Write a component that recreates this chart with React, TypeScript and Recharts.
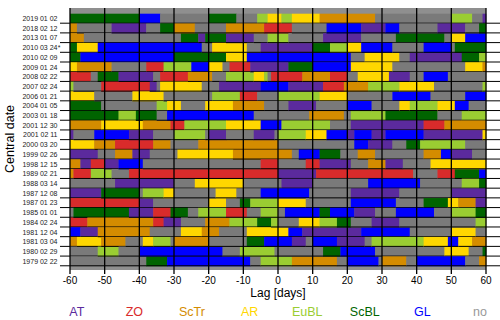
import { BarChart, Bar, XAxis, YAxis, Cell, ReferenceLine, CartesianGrid } from 'recharts';

// weather regimes, their one-letter codes in the run strings, and colours
const regimes = ['AT', 'ZO', 'ScTr', 'AR', 'EuBL', 'ScBL', 'GL', 'no'];
const codes = ['A', 'Z', 'O', 'Y', 'E', 'S', 'B', 'n'];
const colors = ['#5b2a9d', '#d92b2b', '#d48c00', '#ffd700', '#9acd32', '#006400', '#0000ff', '#7a7a7a'];
const legendColors = ['#5b2a9d', '#d92b2b', '#d48c00', '#ffd700', '#9acd32', '#006400', '#0000ff', '#999999'];

const dates = [
  '2019 01 02', '2018 02 12', '2013 01 07', '2010 03 24*', '2010 02 09', '2009 01 24',
  '2008 02 22', '2007 02 24', '2006 01 21', '2004 01 05', '2003 01 18', '2001 12 30',
  '2001 02 11', '2000 03 20', '1999 02 26', '1998 12 15', '1989 02 21', '1988 03 14',
  '1987 12 08', '1987 01 23', '1985 01 01', '1984 02 24', '1981 12 04', '1981 03 04',
  '1980 02 29', '1979 02 22',
];

// regime runs per central date, code + length in days, from lag -60 to +60
const runs = [
  'S20 B6 n14 S8 n6 E3 Y4 E3 Y8 O16 n22 E6 n3 A1',
  'O2 n10 A10 n4 S4 O6 n9 O11 Z8 n10 B10 A7 B4 n11 A8 n4 S2',
  'O4 n28 S5 A2 S6 A8 n4 E6 n10 A11 n10 S14 n2 Y4 B6',
  'S2 Y6 B30 n3 Y10 n4 A15 S5 E5 Y4 B9 n9 B8 n1 S9',
  'S3 B27 S15 Y6 B30 n4 Y10 n3 A15 S5 E2',
  'Y2 O10 n10 Z5 E8 B5 Y4 n2 Z6 A11 S7 B11 Y12 n21 Y5 O1',
  'Z6 n2 S6 A10 n2 Z8 O7 n4 E8 Y3 E1 n1 Z9 O8 Z5 n3 Y9 A6 n4 B7 n11',
  'E1 n8 Z14 A2 n1 Y12 n5 A12 B8 A10 Z6 O7 E9 Y10 n14 E1',
  'Y7 n11 Y9 n14 E8 Z5 n6 E12 Y8 n13 B11 n10 B6',
  'S9 n16 E3 Y4 n7 Y8 O9 n7 A8 n9 B7 n8 Y3 E8 Y5 B4 n5',
  'S14 E5 S6 n3 B25 n16 O10 n2 E10 S15 n7 E7',
  'O9 Y12 O8 Z4 E12 Y10 B6 E14 n6 A21 Z6 O12',
  'A1 n6 B10 A7 n6 E9 n1 A5 n8 A6 n1 E8 Y6 B6 A2 B5 A4 B11 A17 Y1',
  'Y7 O6 Z11 O5 n8 O23 n22 B4 A7 n4 S4 E13 n6',
  'A8 n5 O5 A5 n8 Y16 O17 n2 B6 S6 n5 O5 n14 O5 B3 A6 n4',
  'O3 A3 Z4 A4 B7 n34 Z5 n8 Z4 A9 n5 O5 A5 n8 Y16',
  'O1 Z5 E6 n5 Z43 A11 Z28 n7 Z5 S7 B2',
  'n13 A17 n6 Y14 n11 A9 n16 B15 n12 E5 S2',
  'A9 S11 n1 E6 Y3 n12 Y6 n7 B14 n12 A14 n15 A10',
  'Z20 A4 n16 Y5 n4 S3 E8 Y8 n13 B13 n8 S7 Y3 O5 A3',
  'n1 S16 A7 Z5 S5 n3 E8 Z6 n4 E5 n2 B10 S3 B7 A6 n6 B11 n5 E7 S3',
  'Z5 O19 Z3 A5 n7 O7 E8 S4 E2 n6 Y6 E5 S4 n6 A8 n22 E3',
  'B3 A5 O15 n9 Y6 O5 n8 Y12 B4 A17 B14 n12 Y7 n3',
  'O2 Y7 O7 n5 Y3 E5 n1 O10 n11 S5 B8 A4 n2 B7 A8 n2 E15 Y7 B3 Y4 O4',
  'n8 E6 n6 B24 n5 E10 n14 S5 B10 n20 Y7 n4 S1',
  'n22 S6 B24 n3 E9 O13 n3 B9 n1 O7 n3 B14 n4 O2',
];

const lagTicks = [-60, -50, -40, -30, -20, -10, 0, 10, 20, 30, 40, 50, 60];
const LAG_START = -60;

const font = '"Liberation Sans", Arial, sans-serif';

const parsed = runs.map(r => r.split(' ').map(s => ({ code: s[0], len: Number(s.slice(1)) })));
const maxSegs = Math.max(...parsed.map(p => p.length));

const rows = dates.map((date, i) => {
  const row: any = { date, n: parsed[i].length };
  for (let k = 0; k < maxSegs; k++) row['s' + k] = parsed[i][k] ? parsed[i][k].len : 0;
  return row;
});

function Segment(p: any) {
  const { x, y, width, height, fill, k, payload } = p;
  if (!width || width <= 0) return null;
  const last = payload && payload.n === k + 1;
  const yb = y + height - 0.5;
  return (
    <g>
      <rect x={x} y={y} width={width + 0.3} height={height} fill={fill} />
      <line x1={k === 0 ? x - 10 : x} x2={last ? x + width + 14 : x + width + 0.3} y1={yb} y2={yb} stroke="#000" strokeWidth={1} />
    </g>
  );
}

function DateTick({ x, y, payload }: any) {
  const v: string = payload.value;
  const star = v.endsWith('*');
  const label = star ? v.slice(0, -1) : v;
  return (
    <g>
      <text x={x} y={y} dy={2.5} textAnchor="end" fontSize={7} fill="#222">{label}</text>
      {star && <text x={x + 0.3} y={y} dy={2.5} textAnchor="start" fontSize={7} fill="#222">*</text>}
    </g>
  );
}

function YLabel({ viewBox }: any) {
  const cx = viewBox.x + 10;
  const cy = viewBox.y + viewBox.height / 2;
  return (
    <text x={cx} y={cy} transform={`rotate(-90 ${cx} ${cy})`} textAnchor="middle" dominantBaseline="central" fontSize={12.5} fill="#000">
      Central date
    </text>
  );
}

export default function App() {
  const ticks = lagTicks.map(t => t - LAG_START);
  return (
    <div style={{ position: 'absolute', left: 0, top: 0, width: 500, height: 320, background: '#fff', fontFamily: font }}>
      <BarChart width={500} height={320} layout="vertical" data={rows} barCategoryGap={0} barGap={0}
        margin={{ top: 8, right: 14, bottom: 6, left: 0 }}>
        <CartesianGrid horizontal={false} vertical={false} fill="#8f8f8f" fillOpacity={1} />
        <XAxis type="number" domain={[0, 120]} ticks={ticks} interval={0} tickFormatter={v => String(v + LAG_START)}
          height={44} tickSize={4} tickMargin={3} axisLine={false}
          tickLine={{ stroke: '#000', strokeWidth: 1.3 }} tick={{ fontSize: 10, fill: '#000' }}
          label={{ value: 'Lag [days]', position: 'insideBottom', offset: 17, fontSize: 12, fill: '#000' }} />
        <XAxis xAxisId="top" orientation="top" type="number" domain={[0, 120]} ticks={ticks} interval={0}
          height={0} tickSize={4} axisLine={false} tick={false} tickLine={{ stroke: '#000', strokeWidth: 1.3 }} />
        <YAxis type="category" dataKey="date" width={70} axisLine={false} tickLine={false} tickSize={0} tickMargin={12.5}
          interval={0} padding={{ top: 5.7, bottom: 4 }} tick={<DateTick />} label={<YLabel />} />
        {Array.from({ length: maxSegs }, (_, k) => (
          <Bar key={k} dataKey={'s' + k} stackId="runs" isAnimationActive={false}
            shape={(p: any) => <Segment {...p} k={k} />}>
            {parsed.map((segs, i) => (
              <Cell key={i} fill={segs[k] ? colors[codes.indexOf(segs[k].code)] : 'none'} />
            ))}
          </Bar>
        ))}
        {ticks.map(t => (
          <ReferenceLine key={t} x={t} stroke="#000" strokeWidth={1.3} />
        ))}
      </BarChart>
      <div style={{ position: 'absolute', left: 48, top: 302, width: 461, height: 20, display: 'flex', lineHeight: '20px', fontSize: 12.5 }}>
        {regimes.map((r, i) => (
          <div key={r} style={{ width: 57.6, textAlign: 'center', color: legendColors[i] }}>{r}</div>
        ))}
      </div>
    </div>
  );
}
